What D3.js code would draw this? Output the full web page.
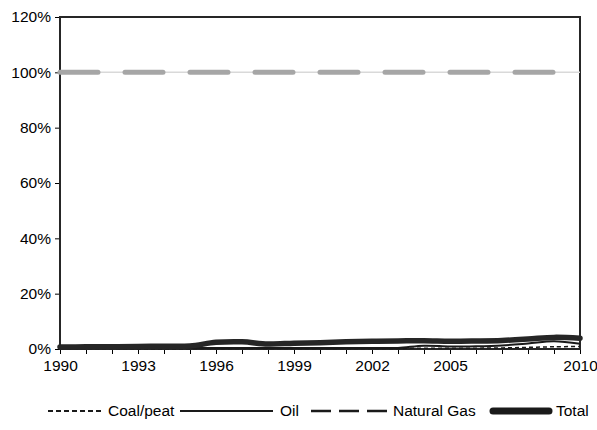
<!DOCTYPE html>
<html>
<head>
<meta charset="utf-8">
<script src="https://cdn.jsdelivr.net/npm/d3@7"></script>
<style>
  html, body { margin: 0; padding: 0; background: #fff; }
  svg { display: block; font-family: "Liberation Sans", Arial, sans-serif; }
</style>
</head>
<body>
<svg id="chart" width="597" height="430"></svg>
<script>
const years = d3.range(1990, 2011);
const xTickLabels = [1990, 1993, 1996, 1999, 2002, 2005, 2010];
const yTicks = [0, 20, 40, 60, 80, 100, 120];

const coalPeat   = [0.1,0.1,0.1,0.1,0.1,0.1,0.2,0.2,0.2,0.2,0.2,0.2,0.2,0.2,0.3,0.3,0.3,0.4,0.6,0.8,0.9];
const oil        = [0.4,0.4,0.4,0.4,0.4,0.4,0.4,0.4,0.4,0.4,0.4,0.4,0.4,0.4,1.2,0.9,1.0,1.3,2.0,2.8,1.9];
const naturalGas = [100,100,100,100,100,100,100,100,100,100,100,100,100,100,100,100,100,100,100,100,100];
const total      = [0.7,0.8,0.8,0.9,1.0,1.1,2.4,2.6,1.8,2.1,2.3,2.6,2.8,2.9,3.0,2.8,2.9,3.1,3.6,4.2,3.9];

const seriesNames = ["Coal/peat", "Oil", "Natural Gas", "Total"];

const svg = d3.select("#chart");
const L = 60, R = 580, T = 17, B = 349;
const FONT = "'Liberation Sans', Arial, sans-serif";
const FS = 15.5;

const x = d3.scaleLinear().domain([1990, 2010]).range([L, R]);
const y = d3.scaleLinear().domain([0, 120]).range([B, T]);

// Y axis
const yAxis = svg.append("g").attr("transform", `translate(${L},0)`)
  .call(d3.axisLeft(y).tickValues(yTicks).tickFormat(d => d + "%").tickSize(5).tickPadding(4));
yAxis.select(".domain").remove();
yAxis.selectAll(".tick line").attr("stroke", "#000").attr("stroke-width", 1);
yAxis.selectAll("text").attr("font-size", FS).attr("fill", "#000").attr("font-family", FONT);

// X axis
const xAxis = svg.append("g").attr("transform", `translate(0,${B})`)
  .call(d3.axisBottom(x).tickValues(years).tickFormat(d => xTickLabels.includes(d) ? d : "").tickSize(5).tickPadding(6));
xAxis.select(".domain").remove();
xAxis.selectAll(".tick line").attr("stroke", "#000").attr("stroke-width", 1);
xAxis.selectAll("text").attr("font-size", FS).attr("fill", "#000").attr("font-family", FONT);

// Frame
svg.append("rect").attr("x", L).attr("y", T).attr("width", R - L).attr("height", B - T)
  .attr("fill", "none").attr("stroke", "#262626").attr("stroke-width", 2);

const line = d3.line().x((d, i) => x(years[i])).y(d => y(d)).curve(d3.curveCatmullRom.alpha(0.5));

const plot = svg.append("g");
// natural gas: faint base line + thick gray dashes
plot.append("path").datum(naturalGas).attr("d", line)
  .attr("fill", "none").attr("stroke", "#d9d9d9").attr("stroke-width", 1.5);
plot.append("path").datum(naturalGas).attr("d", line)
  .attr("fill", "none").attr("stroke", "#a6a6a6").attr("stroke-width", 5)
  .attr("stroke-linecap", "round").attr("stroke-dasharray", "38,27");

plot.append("path").datum(coalPeat).attr("d", line)
  .attr("fill", "none").attr("stroke", "#1a1a1a").attr("stroke-width", 1.5)
  .attr("stroke-dasharray", "4,3");
plot.append("path").datum(oil).attr("d", line)
  .attr("fill", "none").attr("stroke", "#1a1a1a").attr("stroke-width", 2);
plot.append("path").datum(total).attr("d", line)
  .attr("fill", "none").attr("stroke", "#262626").attr("stroke-width", 5.5)
  .attr("stroke-linecap", "round");

// Legend
const legendY = 411;
const leg = svg.append("g").attr("font-size", FS).attr("fill", "#000").attr("font-family", FONT);
const items = [
  {name: seriesNames[0], x1: 48, x2: 104, tx: 108, w: 2, dash: "5,3", cap: "butt"},
  {name: seriesNames[1], x1: 180, x2: 273, tx: 280, w: 2, dash: null, cap: "butt"},
  {name: seriesNames[2], x1: 311, x2: 387, tx: 393, w: 2.5, dash: "20,8", cap: "butt"},
  {name: seriesNames[3], x1: 493, x2: 549, tx: 556, w: 7, dash: null, cap: "round"}
];
items.forEach(it => {
  leg.append("line").attr("x1", it.x1).attr("x2", it.x2).attr("y1", legendY).attr("y2", legendY)
    .attr("stroke", "#1a1a1a").attr("stroke-width", it.w).attr("stroke-linecap", it.cap)
    .attr("stroke-dasharray", it.dash);
  leg.append("text").attr("x", it.tx).attr("y", legendY).attr("dy", "0.35em").text(it.name);
});
</script>
</body>
</html>
